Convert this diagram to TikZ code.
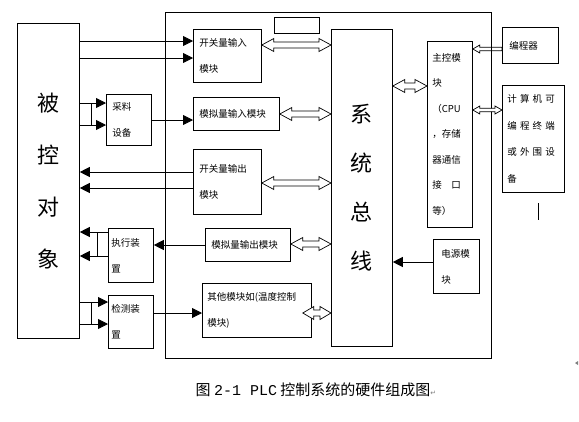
\documentclass[tikz,border=0pt]{standalone}
\usepackage{fontspec}
\setmainfont{Noto Sans CJK SC}
\newfontfamily\symfont{DejaVu Sans}
\newfontfamily\latinfont{Liberation Mono}
\usetikzlibrary{arrows.meta, calc}
\tikzstyle{module} = [rectangle, draw=black, line width=0.8pt, anchor=north west, inner xsep=6pt, inner ysep=0pt, align=left, font=\fontsize{9.5}{26}\selectfont]
\tikzstyle{bigbox} = [module, align=center, inner xsep=4pt, font=\fontsize{22}{50}\selectfont]
\tikzstyle{frame} = [rectangle, draw=black, line width=0.8pt, anchor=north west, inner sep=0pt]
\tikzstyle{line} = [line width=0.8pt]
\tikzstyle{arrow} = [line width=0.8pt, -{Triangle[length=10pt, width=10pt]}]
% hollow double-headed arrow, left to right: head length, head half width, shaft half width
\tikzset{link/.style n args={3}{line width=0.7pt, fill=white, to path={let \p1=(\tikztostart), \p2=(\tikztotarget) in
    (\p1) -- (\x1+#1,\y1+#2) -- (\x1+#1,\y1+#3) -- (\x2-#1,\y2+#3) -- (\x2-#1,\y2+#2) -- (\p2)
    -- (\x2-#1,\y2-#2) -- (\x2-#1,\y2-#3) -- (\x1+#1,\y1-#3) -- (\x1+#1,\y1-#2) -- cycle}}}
% hollow single arrow pointing left
\tikzset{feed/.style n args={3}{line width=0.7pt, to path={let \p1=(\tikztostart), \p2=(\tikztotarget) in
    (\x1,\y1+#3) -- (\x2+#1,\y2+#3) -- (\x2+#1,\y2+#2) -- (\p2) -- (\x2+#1,\y2-#2) -- (\x2+#1,\y2-#3) -- (\x1,\y1-#3) -- cycle}}}

\begin{document}
\begin{tikzpicture}[x=1pt, y=-1pt]
    \useasboundingbox (0,0) rectangle (579,421);
    \node (plc) [frame, minimum width=326pt, minimum height=346pt] at (165,12) {};
    \node (blank) [frame, minimum width=45pt, minimum height=16pt] at (274,17) {};
    \node (obj) [bigbox, text width=54pt, minimum height=315pt, font=\fontsize{22}{52}\selectfont] at (17,23) {被\\控\\对\\象};
    \node (bus) [bigbox, text width=53pt, minimum height=317pt, font=\fontsize{22}{49}\selectfont] at (331,29) {系\\统\\总\\线};
    \node (kin) [module, text width=56pt, minimum height=53pt] at (193,29) {开关量输入\\模块};
    \node (ain) [module, text width=74pt, minimum height=33pt] at (193,97) {模拟量输入模块};
    \node (kout) [module, text width=56pt, minimum height=65pt] at (193,149) {开关量输出\\模块};
    \node (aout) [module, text width=73pt, minimum height=33pt] at (205,228) {模拟量输出模块};
    \node (other) [module, inner xsep=5pt, text width=99pt, minimum height=54pt] at (202,283) {其他模块如(温度控制\\模块)};
    \node (sense) [module, text width=33pt, minimum height=51pt] at (106,94) {采料\\设备};
    \node (act) [module, inner xsep=3pt, text width=39pt, minimum height=54pt] at (108,228) {执行装\\置};
    \node (det) [module, inner xsep=3pt, text width=39pt, minimum height=53pt] at (108,295) {检测装\\置};
    \node (cpu) [module, inner xsep=5pt, text width=35pt, minimum height=186pt, font=\fontsize{9.5}{25.5}\selectfont] at (427,41) {主控模\\块\\（CPU\\，存储\\器通信\\接　口\\等）};
    \node (prog) [module, inner xsep=7pt, text width=42pt, minimum height=36pt] at (502,27) {编程器};
    \node (pc) [module, inner xsep=5pt, text width=52pt, minimum height=107pt, font=\fontsize{9.5}{26.5}\selectfont] at (502,85) {计 算 机 可\\编 程 终 端\\或 外 围 设\\备};
    \node (power) [module, inner xsep=8pt, text width=30pt, minimum height=54pt] at (433,239) {电源模\\块};
    \node (cap) at (316,390) {\fontsize{15}{16}\selectfont 图 {\latinfont 2-1 PLC} 控制系统的硬件组成图{\symfont\fontsize{7}{8}\selectfont\color{gray}↵}};
    % field side
    \draw [arrow] (obj.east |- 0,41) -- (kin.west |- 0,41);
    \draw [arrow] (obj.east |- 0,58) -- (kin.west |- 0,58);
    \draw [arrow] (obj.east |- 0,103) -- (sense.west |- 0,103);
    \draw [arrow] (obj.east |- 0,125) -- (sense.west |- 0,125);
    \draw [line] (91,103) -- (91,125);
    \draw [arrow] (sense.east |- 0,120) -- (ain.west |- 0,120);
    \draw [arrow] (kout.west |- 0,172) -- (obj.east |- 0,172);
    \draw [arrow] (kout.west |- 0,188) -- (obj.east |- 0,188);
    \draw [arrow] (act.west |- 0,232) -- (obj.east |- 0,232);
    \draw [arrow] (act.west |- 0,256) -- (obj.east |- 0,256);
    \draw [line] (97,232) -- (97,256);
    \draw [arrow] (aout.west |- 0,245) -- (act.east |- 0,245);
    \draw [arrow] (obj.east |- 0,302) -- (det.west |- 0,302);
    \draw [arrow] (obj.east |- 0,324) -- (det.west |- 0,324);
    \draw [line] (91,302) -- (91,324);
    \draw [arrow] (det.east |- 0,313) -- (other.west |- 0,313);
    % bus links
    \draw [link={12pt}{6.5pt}{3pt}] (kin.east |- 0,45) to (bus.west |- 0,45);
    \draw [link={12pt}{6.5pt}{3pt}] (ain.east |- 0,114) to (bus.west |- 0,114);
    \draw [link={12pt}{6.5pt}{3pt}] (kout.east |- 0,183) to (bus.west |- 0,183);
    \draw [link={12pt}{6.5pt}{3pt}] (aout.east |- 0,244) to (bus.west |- 0,244);
    \draw [link={11pt}{6.5pt}{3pt}] ([xshift=-9pt]other.east |- 0,313) to (bus.west |- 0,313);
    \draw [link={12pt}{6.5pt}{3pt}] (bus.east |- 0,86) to (cpu.west |- 0,86);
    \draw [arrow] (power.west |- 0,262) -- (bus.east |- 0,262);
    % cpu side
    \draw [feed={7pt}{4pt}{1.7pt}] (prog.west |- 0,49) to (cpu.east |- 0,49);
    \draw [link={7pt}{4pt}{1.7pt}] (cpu.east |- 0,110) to (pc.west |- 0,110);
    \draw [line] (538,203) -- (538,220);
    \fill [gray] (575,363) -- (578,361) -- (578,365) -- cycle;
\end{tikzpicture}
\end{document}
